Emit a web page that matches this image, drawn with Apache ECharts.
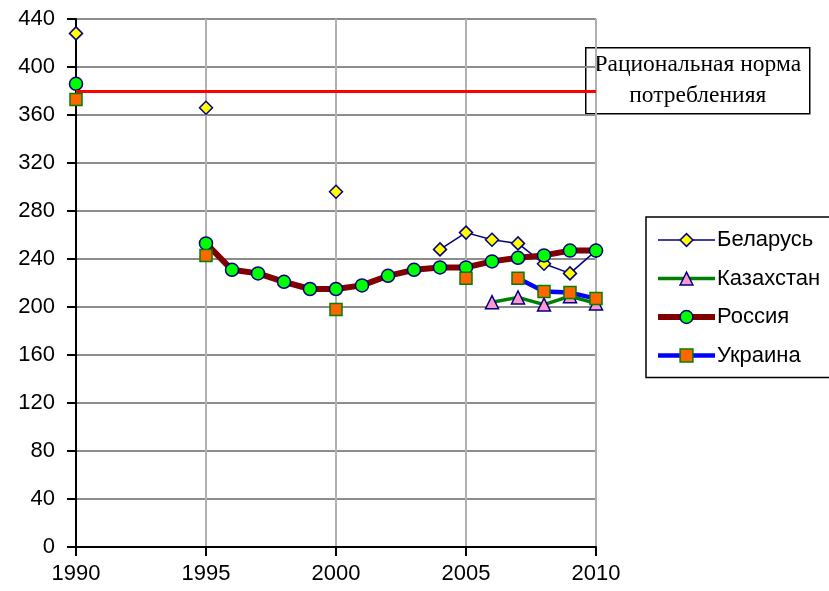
<!DOCTYPE html>
<html><head><meta charset="utf-8">
<script src="https://cdn.jsdelivr.net/npm/echarts@6/dist/echarts.min.js"></script>
<style>html,body{margin:0;padding:0;background:#fff}#c{width:829px;height:591px}</style>
</head><body><div id="c"></div>
<script>
const years = [1990,1991,1992,1993,1994,1995,1996,1997,1998,1999,2000,2001,2002,2003,2004,2005,2006,2007,2008,2009,2010];
const belarus    = [428,null,null,null,null,366,null,null,null,null,296,null,null,null,248,262,256,253,236,228,247];
const kazakhstan = [null,null,null,null,null,null,null,null,null,null,null,null,null,null,null,null,204,208,202,209,203];
const russia     = [386,null,null,null,null,253,231,228,221,215,215,218,226,231,233,233,238,241,243,247,247];
const ukraine    = [373,null,null,null,null,243,null,null,null,null,198,null,null,null,null,224,null,224,213,212,207];
const normValue = 380;
const normLabel = ['Рациональная норма', 'потребленияя'];
const xTicks = [1990, 2010, 5];
const yTicks = [0, 440, 40];

const pairs = arr => years.map((y,i)=>[y, arr[i]==null ? '-' : arr[i]]);
const chart = echarts.init(document.getElementById('c'));
const font = 'Liberation Sans, Arial, sans-serif';
const serif = '23.5px "Liberation Serif", "Times New Roman", serif';
chart.setOption({
  animation:false,
  backgroundColor:'#fff',
  grid:{left:76,right:233,top:19,bottom:44,containLabel:false},
  xAxis:{type:'value',min:xTicks[0],max:xTicks[1],interval:xTicks[2],
    axisLine:{show:true,onZero:false,lineStyle:{color:'#000',width:2}},
    axisTick:{show:true,length:9,lineStyle:{color:'#000',width:2}},
    axisLabel:{color:'#000',fontSize:22,fontFamily:font,margin:16,formatter:v=>String(v)},
    splitLine:{show:true,lineStyle:{color:'#b0b0b0',width:2}}},
  yAxis:{type:'value',min:yTicks[0],max:yTicks[1],interval:yTicks[2],
    axisLine:{show:true,lineStyle:{color:'#000',width:2}},
    axisTick:{show:true,length:9,lineStyle:{color:'#000',width:2}},
    axisLabel:{color:'#000',fontSize:22,fontFamily:font,margin:21},
    splitLine:{show:true,lineStyle:{color:'#8c8c8c',width:2}}},
  legend:{orient:'vertical',left:646,top:217,padding:[12,10,11,9],itemGap:16.5,
    itemWidth:57,itemHeight:16,backgroundColor:'#fff',borderColor:'#000',borderWidth:1.5,borderRadius:0,
    lineStyle:{width:'inherit'},itemStyle:{borderWidth:'inherit'},
    textStyle:{color:'#000',fontSize:22,fontFamily:font,padding:[0,0,0,-3]},
    data:['Беларусь','Казахстан','Россия','Украина']},
  series:[
    {name:'Беларусь',type:'line',data:pairs(belarus),connectNulls:false,symbol:'diamond',symbolSize:13,
      lineStyle:{color:'#000080',width:1.5},itemStyle:{color:'#ffff00',borderColor:'#000080',borderWidth:1.5},z:2,
      markLine:{silent:true,symbol:'none',label:{show:false},lineStyle:{color:'#ff0000',width:3,type:'solid'},data:[{yAxis:normValue}]}},
    {name:'Казахстан',type:'line',data:pairs(kazakhstan),connectNulls:false,symbol:'triangle',symbolSize:13,
      lineStyle:{color:'#008000',width:3.5},itemStyle:{color:'#ff99cc',borderColor:'#000080',borderWidth:1.5},z:3},
    {name:'Россия',type:'line',data:pairs(russia),connectNulls:false,symbol:'circle',symbolSize:13,
      lineStyle:{color:'#800000',width:6},itemStyle:{color:'#00ff00',borderColor:'#000080',borderWidth:1.5},z:4},
    {name:'Украина',type:'line',data:pairs(ukraine),connectNulls:false,symbol:'rect',symbolSize:12,
      lineStyle:{color:'#0000ff',width:4.5},itemStyle:{color:'#ff6600',borderColor:'#008000',borderWidth:1.5},z:5}
  ],
  graphic:[{type:'group',left:585,top:47,z:100,children:[
    {type:'rect',shape:{x:0,y:0,width:224,height:66},style:{fill:'#fff',stroke:'#000',lineWidth:1.5}},
    {type:'text',style:{x:112,y:17,text:normLabel[0],fill:'#000',font:serif,align:'center',verticalAlign:'middle'}},
    {type:'text',style:{x:112,y:48,text:normLabel[1],fill:'#000',font:serif,align:'center',verticalAlign:'middle'}}
  ]}]
});
</script></body></html>
